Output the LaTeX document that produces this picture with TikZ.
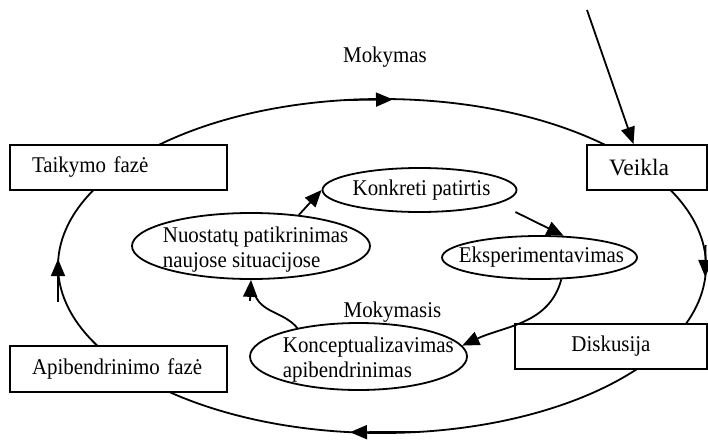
\documentclass[tikz,border=0pt]{standalone}
\usepackage{fontspec}
\setmainfont{Liberation Serif}[FakeStretch=0.93]
\newfontfamily\veikfont{Liberation Serif}
\usetikzlibrary{arrows.meta,shapes.geometric,calc}
\begin{document}
\begin{tikzpicture}[x=1pt,y=1pt,
  line width=1.8pt,
  arr/.style={-{Triangle[length=17pt,width=14pt]}},
  phase/.style={draw, fill=white, rectangle, minimum height=45pt, inner xsep=22pt, inner ysep=0pt, font=\fontsize{22.5}{25}\selectfont},
  ell/.style={draw, ellipse, inner sep=0pt},
  txt/.style={inner sep=0pt, align=left, font=\fontsize{22.5}{25}\selectfont}]
\useasboundingbox (0,0) rectangle (708,440);

% outer cycle (drawn first, the boxes cover its ends)
\coordinate (O) at (382,174);
\coordinate (taikR) at ([shift={(O)}]135:324pt and 167pt);
\coordinate (veikD) at ([shift={(O)}]29:324pt and 167pt);
\coordinate (diskD) at ([shift={(O)}]-36:324pt and 167pt);
\coordinate (apibU) at ([shift={(O)}]210:324pt and 167pt);
\draw (taikR) arc[start angle=135, end angle=45, x radius=324pt, y radius=167pt];
\draw (veikD) arc[start angle=29, end angle=-22, x radius=324pt, y radius=167pt];
\draw (diskD) arc[start angle=-36, end angle=-134, x radius=324pt, y radius=167pt];
\draw (apibU) arc[start angle=210, end angle=150, x radius=324pt, y radius=167pt];

% phase boxes
\node[phase, text width=173pt, align=left] (taik) at (118.5,272.5) {Taikymo fazė};
\node[phase, text width=76pt, align=left, font=\veikfont\fontsize{23.5}{27}\selectfont] (veik) at (647,272.5) {Veikla};
\node[phase, text width=148pt, align=center] (disk) at (611,93.5) {Diskusija};
\node[phase, text width=173pt, align=left, minimum height=46pt] (apib) at (118.5,71) {Apibendrinimo fazė};

% arrow heads on the outer cycle
\coordinate (tA) at (346,340);   \coordinate (tB) at (393,340.6);
\coordinate (rA) at (705.6,195); \coordinate (rB) at (705.2,163);
\coordinate (bA) at (417,8);     \coordinate (bB) at (350,7.8);
\coordinate (lA) at (58,138);    \coordinate (lB) at (58,181);
\draw[arr] (tA) -- (tB);
\draw[arr] (rA) -- (rB);
\draw[arr] (bA) -- (bB);
\draw[arr] (lA) -- (lB);

% incoming arrow to Veikla
\coordinate (src) at (587,430);
\draw[arr] (src) -- (veik.120);

% inner ellipses
\node[ell, minimum width=194pt, minimum height=44pt] (konk) at (419.5,250) {};
\node[ell, minimum width=238pt, minimum height=66pt] (nuo) at (251,194) {};
\node[ell, minimum width=195pt, minimum height=43pt] (eks) at (539.5,182.5) {};
\node[ell, minimum width=217pt, minimum height=67pt] (konc) at (358.5,83.5) {};

\node[txt] at (421.5,250) {Konkreti patirtis};
\node[txt, anchor=west] at (162,190.5) {Nuostatų patikrinimas\\naujose situacijose};
\node[txt, anchor=west] at (458,183) {Eksperimentavimas};
\node[txt, anchor=west] at (282,80) {Konceptualizavimas\\apibendrinimas};

\node[txt] (mok) at (385,383) {Mokymas};
\node[txt] (moks) at (392.5,128) {Mokymasis};

% inner cycle
\draw[arr] (nuo.33) -- (konk.west);
\draw[arr] ([shift={(-2,-22)}]konk.east) -- (eks.42);
\draw[arr] (eks.-45) to[out=-105,in=25] (konc.6);
\draw (konc.155) to[out=130,in=-75] ($(nuo.south)+(3,-12)$);
\draw[arr] ($(nuo.south)+(-1,-21)$) -- (nuo.south);
\end{tikzpicture}
\end{document}
